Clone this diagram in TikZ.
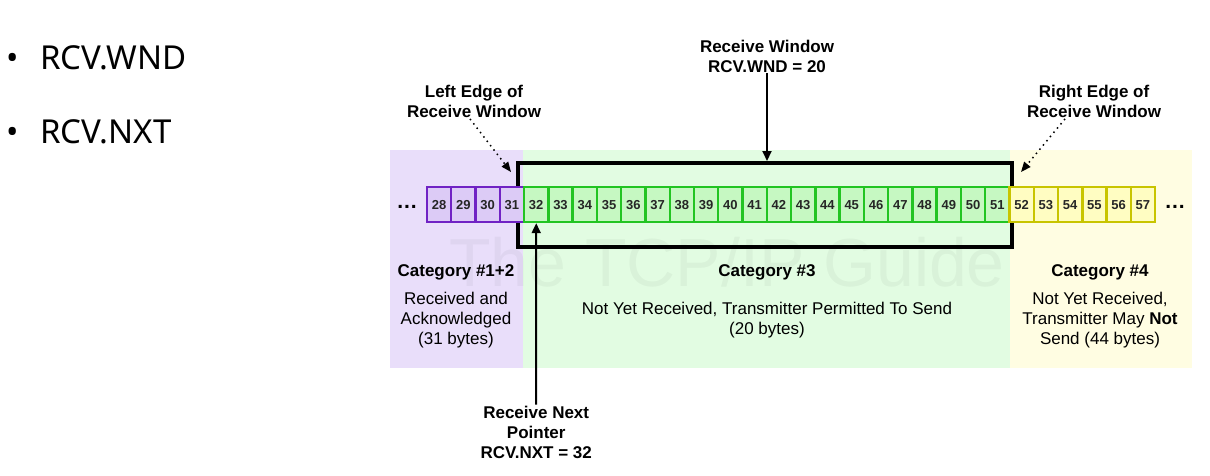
\documentclass[tikz,border=0pt]{standalone}
\usepackage{fontspec}
\setmainfont{Liberation Sans}
\newfontfamily\slidefont{Noto Sans}
\usetikzlibrary{arrows.meta,calc}

\definecolor{ackbg}{HTML}{E9DEFA}
\definecolor{ackcell}{HTML}{DCCBF6}
\definecolor{ackline}{HTML}{7022C4}
\definecolor{winbg}{HTML}{E2FCE2}
\definecolor{wincell}{HTML}{C6F8C2}
\definecolor{winline}{HTML}{22C422}
\definecolor{notbg}{HTML}{FFFDE2}
\definecolor{notcell}{HTML}{FFFDC2}
\definecolor{notline}{HTML}{C8C400}

\begin{document}
\begin{tikzpicture}[x=1pt,y=-1pt,
	cell/.style={draw, line width=2.4pt, minimum width=24.27pt, minimum height=35pt, inner sep=0pt, text height=9.5pt, text depth=0pt, text=black!85, font=\fontsize{13}{13}\selectfont\bfseries},
	lbl/.style={align=center, inner sep=1pt, font=\fontsize{17}{20}\selectfont},
	head/.style={align=center, inner sep=1pt, font=\fontsize{17}{20}\selectfont\bfseries},
	item/.style={inner sep=0pt, font=\slidefont\fontsize{33}{33}\selectfont},
	solidarrow/.style={line width=2pt, -{Triangle[length=10pt,width=9pt]}},
	edgearrow/.style={line width=1.5pt, dash pattern=on 1.5pt off 4pt, -{Triangle[length=10pt,width=8pt]}}]
		\useasboundingbox (0,0) rectangle (1210,475);
		% slide bullets
		\node [item, anchor=base] (dot1) at (13,69) {•};
		\node [item, anchor=base west] (wnditem) at (40,69) {RCV.WND};
		\node [item, anchor=base] (dot2) at (13,143) {•};
		\node [item, anchor=base west] (nxtitem) at (40,143) {RCV.NXT};
		% category backgrounds
		\fill [ackbg] (390,150) rectangle (523,368);
		\fill [winbg] (523,150) rectangle (1010,368);
		\fill [notbg] (1010,150) rectangle (1192,368);
		\node [opacity=0.04, font=\fontsize{68}{68}\selectfont] (mark) at (727,262) {The TCP/IP Guide};
		% window and bytes
		\node [draw, line width=4pt, minimum width=494pt, minimum height=84pt, inner sep=0pt] (win) at (765,205) {};
		\foreach \n in {28,...,31}
			\node [cell, draw=ackline, fill=ackcell] (c\n) at ({427+(\n-27.5)*24.27},204.5) {\n};
		\foreach \n in {32,...,51}
			\node [cell, draw=winline, fill=wincell] (c\n) at ({427+(\n-27.5)*24.27},204.5) {\n};
		\foreach \n in {52,...,57}
			\node [cell, draw=notline, fill=notcell] (c\n) at ({427+(\n-27.5)*24.27},204.5) {\n};
		\node [anchor=base, inner sep=0pt, font=\fontsize{21}{21}\selectfont\bfseries] (leftdots) at (407,208) {.\hspace{1pt}.\hspace{1pt}.};
		\node [anchor=base, inner sep=0pt, font=\fontsize{21}{21}\selectfont\bfseries] (rightdots) at (1175,208) {.\hspace{1pt}.\hspace{1pt}.};
		% pointer labels
		\node [head] (wnd) at (767,56) {Receive Window\\RCV.WND = 20};
		\node [head] (ledge) at (474,101.5) {Left Edge of\\Receive Window};
		\node [head] (redge) at (1094,101.5) {Right Edge of\\Receive Window};
		\node [head] (rnp) at (536.2,432) {Receive Next\\Pointer\\RCV.NXT = 32};
		\draw [solidarrow] (wnd.south) -- (wnd.south |- win.north);
		\draw [solidarrow] (rnp.north) -- (c32.south);
		\draw [edgearrow] ([xshift=-4pt]ledge.south) -- ($(win.north west)+(-5,11)$);
		\draw [edgearrow] ([xshift=-29pt]redge.south) -- ($(win.north east)+(7,11)$);
		% category texts
		\node [head] (cat12) at (456,272) {Category \#1+2};
		\node [lbl] (cat12text) at (456,320) {Received and\\Acknowledged\\(31 bytes)};
		\node [head] (cat3) at (767,272) {Category \#3};
		\node [lbl] (cat3text) at (767,320) {Not Yet Received, Transmitter Permitted To Send\\(20 bytes)};
		\node [head] (cat4) at (1100,272) {Category \#4};
		\node [lbl] (cat4text) at (1100,320) {Not Yet Received,\\Transmitter May \textbf{Not}\\Send (44 bytes)};
\end{tikzpicture}
\end{document}
